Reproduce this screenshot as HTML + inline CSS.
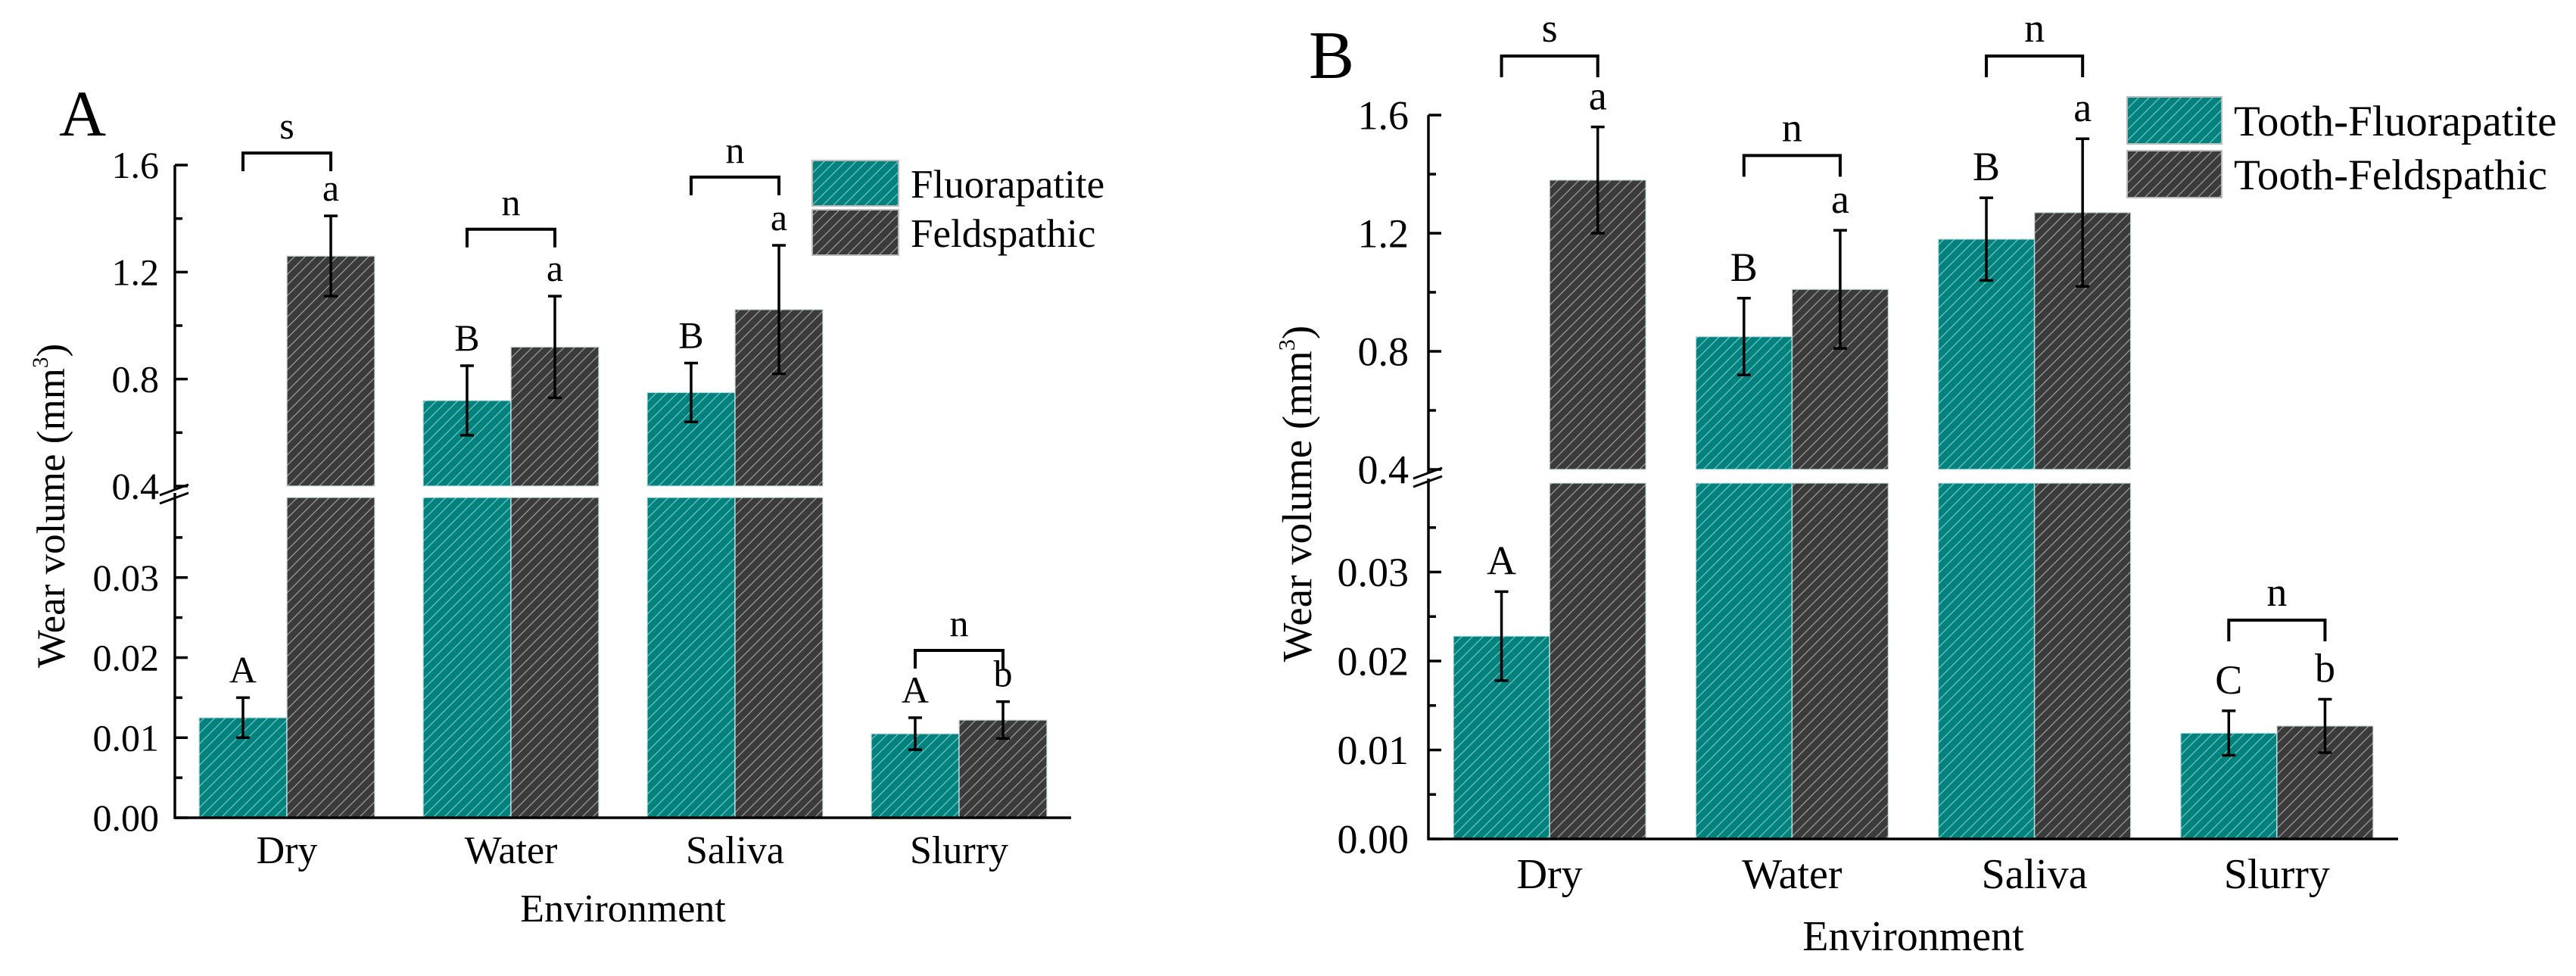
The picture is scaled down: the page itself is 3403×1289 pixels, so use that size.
<!DOCTYPE html>
<html><head><meta charset="utf-8"><style>
html,body{margin:0;padding:0;background:#fff;}
svg{display:block;font-family:"Liberation Serif","Times New Roman",serif;}
svg text{font-family:"Liberation Serif","Times New Roman",serif !important;fill:#000;}
</style></head><body>
<svg id="chart" width="3403" height="1289" viewBox="0 0 3403 1289" xmlns="http://www.w3.org/2000/svg" font-family="Liberation Serif, serif">
<defs>
<pattern id="hatch" patternUnits="userSpaceOnUse" width="14" height="14">
<path d="M-3,17 L17,-3 M-3,3 L3,-3 M11,17 L17,11" stroke="rgba(255,255,255,0.5)" stroke-width="1.2"/>
</pattern>
</defs>
</svg>
<script>
const categories = ["Dry","Water","Saliva","Slurry"];
// Panel A
const fluorA = [0.0125, 0.72, 0.75, 0.0105];
const fluorAErr = [0.0025, 0.13, 0.11, 0.002];
const feldA = [1.26, 0.92, 1.06, 0.0122];
const feldAErr = [0.15, 0.19, 0.24, 0.0023];
const fluorALetters = ["A","B","B","A"];
const feldALetters = ["a","a","a","b"];
const bracketALabels = ["s","n","n","n"];
const bracketAValues = [1.645, 1.36, 1.555, 0.0209];
// Panel B
const fluorB = [0.0228, 0.85, 1.18, 0.0119];
const fluorBErr = [0.005, 0.13, 0.14, 0.0025];
const feldB = [1.38, 1.01, 1.27, 0.0127];
const feldBErr = [0.18, 0.20, 0.25, 0.003];
const fluorBLetters = ["A","B","B","C"];
const feldBLetters = ["a","a","a","b"];
const bracketBLabels = ["s","n","n","n"];
const bracketBValues = [1.80, 1.463, 1.80, 0.0246];
// Axis ticks
const upperTicks = [0.4, 0.8, 1.2, 1.6];
const upperTickLabels = ["0.4","0.8","1.2","1.6"];
const upperMinor = [0.6, 1.0, 1.4];
const lowerTicks = [0.00, 0.01, 0.02, 0.03];
const lowerTickLabels = ["0.00","0.01","0.02","0.03"];
const lowerMinor = [0.005, 0.015, 0.025, 0.035];
const legendA = ["Fluorapatite","Feldspathic"];
const legendB = ["Tooth-Fluorapatite","Tooth-Feldspathic"];

const NS = "http://www.w3.org/2000/svg";
const svg = document.getElementById("chart");
const FONT = "Liberation Serif, Times New Roman, serif";
function mk(tag, attrs, parent){
  const e = document.createElementNS(NS, tag);
  for (const k in attrs) e.setAttribute(k, attrs[k]);
  if (tag === "text") e.setAttribute("font-family", FONT);
  (parent||svg).appendChild(e);
  return e;
}
const TEAL = "#00827f", DARK = "#3b3b3b";

function panel(p){
  const g = mk("g", {});
  
  
  const yS = v => v <= 0.04 ? p.base - v/0.04*(p.base - p.lowTop) : p.y04 - (v-0.4)/1.2*(p.y04 - p.y16);
  const step = (p.x1 - p.x0)/categories.length;
  const bw = step*p.bwFrac;
  const cx = i => p.x0 + (i+0.5)*step;

  const pl = mk("text", {x:p.labelX, y:p.labelY, "font-size":p.labelFs}, g); pl.textContent = p.id.toUpperCase();
  
  

  const series = [[p.s1, p.e1, p.l1, TEAL, -1],[p.s2, p.e2, p.l2, DARK, 0]];
  series.forEach((s, si) => {
    s[0].forEach((v, i) => {
      const x = cx(i) + s[4]*bw;
      const parts = v > 0.4 ? [[p.lowTop, p.base],[yS(v), p.y04]] : [[yS(v), p.base]];
      parts.forEach(pt => {
        const r = mk("rect", {x:x, y:pt[0], width:bw, height:pt[1]-pt[0], fill:s[3]}, g);
        
        
        const h = mk("rect", {x:x, y:pt[0], width:bw, height:pt[1]-pt[0], fill:"url(#hatch)", stroke:"rgba(210,230,230,0.8)", "stroke-width":1.5}, g);
        
        
      });
      const ex = x + bw/2, yt = yS(v + s[1][i]), yb = yS(v - s[1][i]);
      const eb = mk("path", {d:`M${ex},${yt}V${yb}M${ex-9},${yt}H${ex+9}M${ex-9},${yb}H${ex+9}`, stroke:"#000", "stroke-width":3.5, fill:"none"}, g);
      
      
      const lt = mk("text", {x:ex, y:yt-p.letterGap, "font-size":p.tickFs, "text-anchor":"middle"}, g);
      lt.textContent = s[2][i];
      
      
    });
  });

  p.bv.forEach((v, i) => {
    const xl = cx(i) - bw/2, xr = cx(i) + bw/2, y = yS(v);
    const b = mk("path", {d:`M${xl},${y+p.leg}V${y}H${xr}V${y+p.leg}`, stroke:"#000", "stroke-width":4, fill:"none"}, g);
    
    
    const t = mk("text", {x:cx(i), y:y-19, "font-size":p.tickFs, "text-anchor":"middle"}, g);
    t.textContent = p.bl[i];
    
    
  });

  const ax = mk("path", {d:`M${p.x0},${p.y16}V${p.y04+4}M${p.x0},${p.lowTop-6}V${p.base}H${p.x1}`, stroke:"#000", "stroke-width":3.5, fill:"none"}, g);
  
  
  const br = mk("path", {d:`M${p.x0-20},${p.y04+12}L${p.x0+18},${p.y04-2}M${p.x0-20},${p.y04+23}L${p.x0+18},${p.y04+9}`, stroke:"#000", "stroke-width":3, fill:"none"}, g);
  
  
  const ticksU = upperTicks.map((v,i)=>[v, upperTickLabels[i]]);
  const ticksL = lowerTicks.map((v,i)=>[v, lowerTickLabels[i]]);
  ticksU.concat(ticksL).forEach(tk => {
    const y = yS(tk[0]);
    const tm = mk("line", {x1:p.x0, x2:p.x0+17, y1:y, y2:y, stroke:"#000", "stroke-width":3.5}, g);
    
    
    const tl = mk("text", {x:p.x0-p.tickPad, y:y+p.tickFs*0.34, "font-size":p.tickFs, "text-anchor":"end"}, g);
    tl.textContent = tk[1];
    
    
  });
  upperMinor.concat(lowerMinor).forEach(v => {
    const y = yS(v);
    const tm = mk("line", {x1:p.x0, x2:p.x0+10, y1:y, y2:y, stroke:"#000", "stroke-width":3.5}, g);
    
    
  });
  categories.forEach((c, i) => {
    const t = mk("text", {x:cx(i), y:p.catY, "font-size":p.catFs, "text-anchor":"middle"}, g);
    t.textContent = c;
    
    
  });
  const xt = mk("text", {x:(p.x0+p.x1)/2, y:p.envY, "font-size":p.catFs, "text-anchor":"middle"}, g);
  xt.textContent = "Environment";
  
  
  const yt = mk("text", {x:0, y:0, "font-size":p.titleFs, "text-anchor":"middle", transform:`translate(${p.titleX},${p.titleY}) rotate(-90)`}, g);
  yt.innerHTML = 'Wear volume (mm<tspan dy="-22" font-size="' + (p.titleFs*0.55) + '">3</tspan><tspan dy="22">)</tspan>';
  
  

  [TEAL, DARK].forEach((col, i) => {
    const by = p.legY[i];
    const lg = mk("g", {}, g);
    
    
    mk("rect", {x:p.legX, y:by, width:p.legW, height:p.legH, fill:col}, lg);
    mk("rect", {x:p.legX, y:by, width:p.legW, height:p.legH, fill:"url(#hatch)", stroke:"#bbb", "stroke-width":2}, lg);
    const t = mk("text", {x:p.legX+p.legW+16, y:by+p.legH*0.82, "font-size":p.legFs}, lg);
    t.textContent = p.leg_[i];
  });
}

panel({id:"a", x0:231, x1:1415, base:1080, lowTop:657, y04:642, y16:218, bwFrac:0.392,
  s1:fluorA, e1:fluorAErr, l1:fluorALetters, s2:feldA, e2:feldAErr, l2:feldALetters,
  bv:bracketAValues, bl:bracketALabels, leg:24, letterGap:20,
  labelX:78, labelY:179, labelFs:86, tickFs:50, tickPad:21, catFs:52, catY:1140, envY:1217,
  titleFs:53, titleX:85, titleY:668,
  legX:1073, legY:[212,277], legW:114, legH:60, legFs:53, leg_:legendA});
panel({id:"b", x0:1887, x1:3168, base:1108, lowTop:638, y04:620, y16:152, bwFrac:0.397,
  s1:fluorB, e1:fluorBErr, l1:fluorBLetters, s2:feldB, e2:feldBErr, l2:feldBLetters,
  bv:bracketBValues, bl:bracketBLabels, leg:28, letterGap:23,
  labelX:1729, labelY:103, labelFs:90, tickFs:54, tickPad:26, catFs:56, catY:1173, envY:1255,
  titleFs:55, titleX:1732, titleY:652,
  legX:2810, legY:[128,199], legW:125, legH:62, legFs:57, leg_:legendB});
</script>
</body></html>
